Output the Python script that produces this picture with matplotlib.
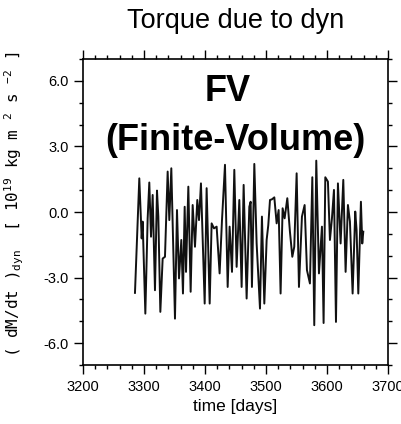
"""Torque due to dyn: FV (Finite-Volume) time series of (dM/dt)_dyn."""

import matplotlib
matplotlib.use("Agg")
import matplotlib.pyplot as plt
from matplotlib.ticker import MultipleLocator

# values
time_days = [
    3285.2, 3292.3, 3296.2, 3297.8, 3302.2, 3306.0, 3308.7, 3311.5, 3314.2, 3318.0,
    3321.3, 3323.5, 3326.8, 3330.6, 3334.4, 3338.8, 3341.5, 3344.8, 3350.8, 3354.1,
    3357.4, 3361.2, 3363.9, 3366.7, 3368.9, 3372.7, 3376.5, 3379.8, 3383.6, 3387.4,
    3390.2, 3393.4, 3399.5, 3402.7, 3407.7, 3410.9, 3414.8, 3419.1, 3424.0, 3427.9,
    3432.8, 3437.2, 3440.4, 3444.3, 3448.1, 3451.9, 3456.3, 3460.1, 3463.4, 3468.3,
    3472.7, 3474.9, 3477.0, 3480.9, 3484.7, 3490.2, 3493.4, 3497.3, 3501.1, 3503.8,
    3506.6, 3509.8, 3513.7, 3517.5, 3520.8, 3524.0, 3527.3, 3530.6, 3535.0, 3539.3,
    3543.2, 3546.4, 3550.3, 3554.1, 3559.0, 3563.4, 3567.2, 3572.1, 3576.0, 3579.2,
    3582.5, 3586.9, 3591.8, 3594.5, 3597.3, 3601.6, 3604.9, 3608.2, 3611.5, 3614.8,
    3618.0, 3622.4, 3626.8, 3630.6, 3634.4, 3637.7, 3642.1, 3646.4, 3648.6, 3651.4,
    3655.7, 3657.9, 3659.6,
]
torque = [
    -3.70, 1.54, -1.21, -0.44, -4.65, -0.29, 1.35, -1.13, 0.78, -3.58,
    0.98, -0.21, -4.57, -2.13, -2.05, 1.85, -0.37, 2.00, -4.88, 0.09,
    -3.04, -1.28, -3.73, 0.24, -2.74, 1.16, -3.65, 0.32, -1.59, 0.55,
    -0.37, 1.31, -4.19, 1.09, -4.19, -0.52, -0.75, -0.67, -2.81, -0.37,
    2.16, -3.43, -0.67, -2.74, 1.93, -2.51, 0.55, -3.43, 1.24, -3.96,
    0.24, 0.47, -3.43, 2.20, -1.44, -4.42, -0.21, -4.19, -1.28, -0.60,
    0.55, 0.58, 0.67, -0.52, 0.09, -3.73, 0.17, -0.29, 0.63, -0.90,
    -2.05, -1.59, 1.77, -3.43, -0.21, 0.32, -2.66, -3.27, 1.59, -5.18,
    2.35, -2.81, -0.67, -5.08, 1.59, 1.39, -1.28, -0.29, 1.01, -5.03,
    1.31, -1.44, 1.47, -2.74, 0.32, -0.44, -3.73, 0.02, -0.83, -3.73,
    0.47, -1.44, -0.90,
]

x_ticks = [3200, 3300, 3400, 3500, 3600, 3700]
y_ticks = [-6.0, -3.0, 0.0, 3.0, 6.0]

plt.rcParams["font.family"] = ["Liberation Sans", "DejaVu Sans"]

fig = plt.figure(figsize=(4.02, 4.24), dpi=100)
ax = fig.add_axes([0.2065, 0.1392, 0.7585, 0.7216])

ax.plot(time_days, torque, color="#111111", lw=1.4)

ax.set_xlim(3200, 3700)
ax.set_ylim(-7, 7)
ax.set_xticks(x_ticks)
ax.set_yticks(y_ticks)
ax.set_yticklabels([f"{v:.1f}" for v in y_ticks])
ax.xaxis.set_minor_locator(MultipleLocator(20))
ax.yaxis.set_minor_locator(MultipleLocator(1))

for s in ax.spines.values():
    s.set_linewidth(1.2)
ax.tick_params(which="both", direction="out", top=True, right=True,
               width=1.0, labelsize=10.5, pad=4)
ax.tick_params(which="major", length=6.5)
ax.tick_params(which="minor", length=3)

ax.set_xlabel("time [days]", fontsize=12.5, labelpad=4)
ax.set_title("Torque due to dyn", fontsize=19.5, pad=22)

ylab = (r"( dM/dt )$\mathregular{_{dyn}}$  [ 10$\mathregular{^{19}}$ kg m "
        r"$\mathregular{^{2}}$ s $\mathregular{^{-2}}$ ]")
fig.text(14 / 402, 1 - 204 / 424, ylab, rotation=90, ha="center", va="center",
         fontsize=11.5, family="DejaVu Sans Mono")

ax.text(0.475, 0.895, "FV", transform=ax.transAxes, ha="center", va="center",
        fontsize=26, fontweight="bold")
ax.text(0.5, 0.735, "(Finite-Volume)", transform=ax.transAxes, ha="center",
        va="center", fontsize=26, fontweight="bold")

fig.savefig("out.png", dpi=100)
